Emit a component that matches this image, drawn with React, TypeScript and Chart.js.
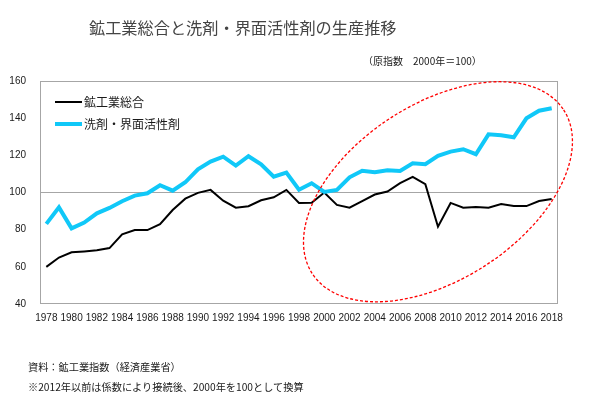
import React, { useEffect, useRef } from 'react';
import { Chart, registerables } from 'chart.js';

Chart.register(...registerables);

const YEARS = [
  '1978', '1979', '1980', '1981', '1982', '1983', '1984', '1985', '1986', '1987',
  '1988', '1989', '1990', '1991', '1992', '1993', '1994', '1995', '1996', '1997',
  '1998', '1999', '2000', '2001', '2002', '2003', '2004', '2005', '2006', '2007',
  '2008', '2009', '2010', '2011', '2012', '2013', '2014', '2015', '2016', '2017', '2018',
];

const MINING = [
  60, 65, 67.8, 68.3, 68.9, 70.1, 77.5, 79.8, 79.8, 82.9,
  90.6, 96.7, 99.8, 101.4, 95.6, 91.8, 92.6, 95.8, 97.4, 101.4,
  94.4, 94.5, 100, 93.3, 91.8, 95.4, 98.9, 100.5, 105, 108.4,
  104.5, 81.6, 94.4, 91.8, 92.2, 91.8, 93.8, 92.7, 92.7, 95.4, 96.5,
];

const DETERGENT = [
  83.1, 92.0, 80.7, 83.8, 88.8, 91.7, 95.3, 98.3, 99.6, 103.9,
  101.0, 105.5, 112.5, 116.6, 119.3, 114.5, 119.5, 115.2, 108.5, 110.7,
  101.5, 105.0, 100.3, 101.4, 108.2, 111.7, 110.9, 112.0, 111.6, 115.7,
  115.2, 119.7, 122.0, 123.3, 120.6, 131.3, 130.8, 129.7, 139.9, 144.0, 145.3,
];

const SERIES_NAMES = ['鉱工業総合', '洗剤・界面活性剤'];
const TITLE = '鉱工業総合と洗剤・界面活性剤の生産推移';
const UNIT = '（原指数　2000年＝100）';
const NOTE1 = '資料：鉱工業指数（経済産業省）';
const NOTE2 = '※2012年以前は係数により接続後、2000年を100として換算';

const Y_MIN = 40;
const Y_MAX = 160;
const Y_STEP = 20;
const REF_VALUE = 100;

// highlight ellipse annotation (centre in data units)
const ELLIPSE_CENTER_YEAR = '2009';
const ELLIPSE_CENTER_VALUE = 100.4;

const BLACK = '#000000';
const BLUE = '#10C8F8';

const W = 605;
const H = 412;

const boxPlugin = {
  id: 'boxPlugin',
  beforeDatasetsDraw(chart: any) {
    const { ctx, chartArea } = chart;
    ctx.save();
    ctx.strokeStyle = '#A6A6A6';
    ctx.lineWidth = 1;
    ctx.strokeRect(
      Math.round(chartArea.left) + 0.5,
      Math.round(chartArea.top) + 0.5,
      Math.round(chartArea.right - chartArea.left) - 1,
      Math.round(chartArea.bottom - chartArea.top) - 1,
    );
    ctx.restore();
  },
};

const ellipsePlugin = {
  id: 'ellipsePlugin',
  afterDatasetsDraw(chart: any) {
    const { ctx } = chart;
    const xs = chart.scales.x;
    const ys = chart.scales.y;
    const cx = xs.getPixelForValue(YEARS.indexOf(ELLIPSE_CENTER_YEAR));
    const cy = ys.getPixelForValue(ELLIPSE_CENTER_VALUE);
    ctx.save();
    ctx.strokeStyle = '#FF0000';
    ctx.lineWidth = 1.3;
    ctx.setLineDash([3, 2]);
    ctx.beginPath();
    ctx.ellipse(cx, cy, 150, 87.7, (-33.1 * Math.PI) / 180, 0, Math.PI * 2);
    ctx.stroke();
    ctx.restore();
  },
};

const jp = '"Noto Sans CJK JP", "Noto Sans", sans-serif';

export default function App() {
  const ref = useRef<HTMLCanvasElement>(null);

  useEffect(() => {
    if (!ref.current) return;
    const chart = new Chart(ref.current, {
      type: 'line',
      data: {
        labels: YEARS,
        datasets: [
          {
            label: SERIES_NAMES[0],
            data: MINING,
            borderColor: BLACK,
            backgroundColor: BLACK,
            borderWidth: 2,
            pointRadius: 0,
            tension: 0,
            order: 1,
          },
          {
            label: SERIES_NAMES[1],
            data: DETERGENT,
            borderColor: BLUE,
            backgroundColor: BLUE,
            borderWidth: 4,
            pointRadius: 0,
            tension: 0,
            order: 0,
          },
        ],
      },
      options: {
        responsive: false,
        animation: false,
        layout: { padding: { left: 0, top: 81, right: 47, bottom: 0 } },
        plugins: {
          legend: { display: false },
          tooltip: { enabled: false },
          title: { display: false },
        },
        scales: {
          x: {
            offset: true,
            grid: { display: false, drawTicks: false },
            border: { display: false },
            ticks: {
              autoSkip: false,
              maxRotation: 0,
              minRotation: 0,
              padding: 8,
              color: '#1a1a1a',
              font: { family: '"Liberation Sans", Arial, sans-serif', size: 10 },
              callback: (_v: any, i: number) => (i % 2 === 0 ? YEARS[i] : ''),
            },
            afterFit: (s: any) => {
              s.height = H - 304;
            },
          },
          y: {
            min: Y_MIN,
            max: Y_MAX,
            border: { display: false },
            grid: {
              drawTicks: false,
              color: (c: any) => (c.tick && c.tick.value === REF_VALUE ? '#A6A6A6' : 'rgba(0,0,0,0)'),
              lineWidth: 1,
            },
            ticks: {
              stepSize: Y_STEP,
              padding: 14,
              color: '#1a1a1a',
              font: { family: '"Liberation Sans", Arial, sans-serif', size: 10 },
            },
            afterFit: (s: any) => {
              s.width = 40;
            },
          },
        },
      },
      plugins: [boxPlugin, ellipsePlugin],
    });
    return () => chart.destroy();
  }, []);

  const textBase: React.CSSProperties = {
    position: 'absolute',
    whiteSpace: 'nowrap',
    lineHeight: 1,
    fontFamily: jp,
  };

  return (
    <div style={{ position: 'absolute', left: 0, top: 0, width: W, height: H, background: '#fff', overflow: 'hidden' }}>
      <canvas ref={ref} width={W} height={H} style={{ position: 'absolute', left: 0, top: 0, width: W, height: H }} />
      <div style={{ ...textBase, left: 89, top: 19, fontSize: 16.2, color: '#444444' }}>{TITLE}</div>
      <div style={{ ...textBase, left: 363, top: 56, fontSize: 10, color: '#1a1a1a' }}>{UNIT}</div>
      <div style={{ position: 'absolute', left: 55, top: 101, width: 27, height: 2, background: BLACK }} />
      <div style={{ ...textBase, left: 84, top: 96, fontSize: 12, color: '#1a1a1a' }}>{SERIES_NAMES[0]}</div>
      <div style={{ position: 'absolute', left: 55, top: 122, width: 27, height: 4, background: BLUE }} />
      <div style={{ ...textBase, left: 84, top: 118, fontSize: 12, color: '#1a1a1a' }}>{SERIES_NAMES[1]}</div>
      <div style={{ ...textBase, left: 28, top: 362, fontSize: 10.2, color: '#1a1a1a' }}>{NOTE1}</div>
      <div style={{ ...textBase, left: 28, top: 382, fontSize: 10.2, color: '#1a1a1a' }}>{NOTE2}</div>
    </div>
  );
}
